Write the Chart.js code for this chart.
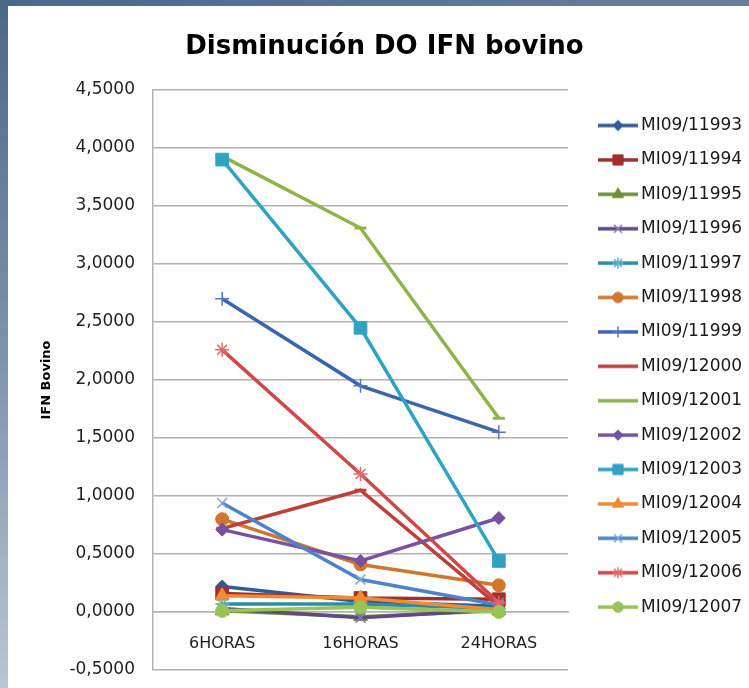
<!DOCTYPE html>
<html lang="es">
<head>
<meta charset="utf-8">
<title>Disminución DO IFN bovino</title>
<script src="https://cdn.jsdelivr.net/npm/chart.js@4.4.1/dist/chart.umd.min.js"></script>
<style>
  html, body { margin: 0; padding: 0; }
  body {
    width: 749px; height: 688px; overflow: hidden; position: relative;
    background: linear-gradient(165deg, #4b6789 0%, #7d93ad 40%, #dfe3e9 100%);
  }
  #painel {
    position: absolute; left: 8px; top: 6px;
    width: 741px; height: 682px; background: #fff;
  }
</style>
</head>
<body>
<div id="painel"><canvas id="grafico"></canvas></div>
<script>
// Categorias do eixo X
const categorias = ['6HORAS', '16HORAS', '24HORAS'];

// Nomes das amostras (legenda)
const amostras = ['MI09/11993', 'MI09/11994', 'MI09/11995', 'MI09/11996', 'MI09/11997',
  'MI09/11998', 'MI09/11999', 'MI09/12000', 'MI09/12001', 'MI09/12002',
  'MI09/12003', 'MI09/12004', 'MI09/12005', 'MI09/12006', 'MI09/12007'];

// Valores
const mi11993 = [0.22, 0.09, 0.05];
const mi11994 = [0.16, 0.12, 0.11];
const mi11995 = [0.01, -0.04, 0.01];
const mi11996 = [0.03, -0.05, 0.02];
const mi11997 = [0.07, 0.07, 0.03];
const mi11998 = [0.80, 0.41, 0.23];
const mi11999 = [2.70, 1.95, 1.55];
const mi12000 = [0.72, 1.05, 0.05];
const mi12001 = [3.93, 3.31, 1.67];
const mi12002 = [0.71, 0.44, 0.81];
const mi12003 = [3.90, 2.45, 0.44];
const mi12004 = [0.14, 0.12, 0.02];
const mi12005 = [0.94, 0.28, 0.06];
const mi12006 = [2.26, 1.19, 0.08];
const mi12007 = [0.01, 0.04, 0.00];

const valores = [mi11993, mi11994, mi11995, mi11996, mi11997, mi11998, mi11999, mi12000,
  mi12001, mi12002, mi12003, mi12004, mi12005, mi12006, mi12007];

// Rótulos do eixo Y
const yEtiquetas = ['-0,5000', '0,0000', '0,5000', '1,0000', '1,5000', '2,0000',
  '2,5000', '3,0000', '3,5000', '4,0000', '4,5000'];

// Estilo de cada série
const cores = ['#2F5D95', '#9E302D', '#6F9139', '#5E4A86', '#2E8DA6', '#D0762F', '#3A66AF',
  '#BF3F3B', '#8FB34B', '#7652A3', '#31A3C0', '#F08B33', '#4E83C9', '#CE4948', '#98C357'];
const coresMarcador = ['#2F5D95', '#9E302D', '#6F9139', '#8B77B8', '#58B3CC', '#D0762F', '#5279C0',
  '#BF3F3B', '#8FB34B', '#7652A3', '#31A3C0', '#F08B33', '#7AA3DA', '#E06A6A', '#98C357'];
const marcadores = ['rectRot', 'rect', 'triangle', 'crossRot', 'star', 'circle', 'cross',
  'line', 'line', 'rectRot', 'rect', 'triangle', 'crossRot', 'star', 'circle'];
const raios = { rectRot: 6.5, rect: 9, triangle: 8, crossRot: 7, star: 7, circle: 6.5, cross: 7, line: 6 };
const soTraco = ['crossRot', 'star', 'cross', 'line'];

// Ícone da legenda: linha com o marcador no meio
function criarIcone(i) {
  let c = document.createElement('canvas');
  c.width = 58;
  c.height = 20;
  let ctx = c.getContext('2d');
  ctx.strokeStyle = cores[i];
  ctx.lineWidth = 3.5;
  ctx.beginPath();
  ctx.moveTo(18, 10);
  ctx.lineTo(58, 10);
  ctx.stroke();
  let estilo = marcadores[i];
  if (estilo !== 'line') {
    let traco = soTraco.includes(estilo);
    ctx.fillStyle = cores[i];
    ctx.strokeStyle = coresMarcador[i];
    ctx.lineWidth = traco ? 1.5 : 1;
    Chart.helpers.drawPoint(ctx, {
      pointStyle: estilo,
      rotation: 0,
      radius: raios[estilo] * 0.8,
      borderWidth: ctx.lineWidth
    }, 38, 10);
  }
  return c;
}

const fonte = 'DejaVu Sans';

// Montamos os datasets
let datasets = amostras.map((nome, i) => {
  let estilo = marcadores[i];
  let traco = soTraco.includes(estilo);
  return {
    label: nome,
    data: valores[i],
    borderColor: cores[i],
    backgroundColor: cores[i],
    borderWidth: 3.5,
    tension: 0,
    pointStyle: estilo,
    pointRadius: raios[estilo],
    pointBackgroundColor: cores[i],
    pointBorderColor: coresMarcador[i],
    pointBorderWidth: estilo === 'line' ? 3 : (traco ? 1.5 : 1),
    order: amostras.length - i
  };
});

let ctx = document.getElementById('grafico');

new Chart(ctx, {
  type: 'line',
  data: {
    labels: categorias,
    datasets: datasets
  },
  options: {
    responsive: true,
    maintainAspectRatio: false,
    animation: false,
    layout: {
      padding: { left: 12, right: 0, top: 0, bottom: 18 }
    },
    plugins: {
      tooltip: { enabled: false },
      title: {
        display: true,
        text: 'Disminución DO IFN bovino',
        color: '#000',
        font: { family: fonte, size: 26, weight: 'bold' },
        padding: { top: 25.4, bottom: 27.4 }
      },
      legend: {
        position: 'right',
        align: 'start',
        maxWidth: 181,
        title: {
          display: true,
          text: '',
          font: { size: 10 },
          padding: { top: 81.6, bottom: 0 }
        },
        labels: {
          usePointStyle: true,
          pointStyleWidth: 47.1,
          padding: 17.4,
          color: '#1a1a1a',
          font: { family: fonte, size: 17 },
          generateLabels: (chart) => chart.data.datasets.map((ds, i) => ({
            text: ds.label,
            fillStyle: ds.borderColor,
            strokeStyle: ds.borderColor,
            fontColor: '#1a1a1a',
            lineWidth: 0,
            pointStyle: criarIcone(i),
            hidden: false,
            datasetIndex: i
          }))
        }
      }
    },
    scales: {
      x: {
        position: { y: 0 },
        offset: true,
        grid: { display: false, drawTicks: false },
        border: { display: true, color: '#b2b2b2', width: 1.5 },
        ticks: {
          color: '#1f1f1f',
          padding: 22,
          font: { family: fonte, size: 16 }
        }
      },
      y: {
        min: -0.5,
        max: 4.5,
        afterFit: (escala) => { escala.width = 133; },
        // marcas invisíveis só para afastar os rótulos do eixo
        grid: { color: '#b2b2b2', lineWidth: 1.5, drawTicks: true, tickLength: 18, tickColor: 'rgba(0,0,0,0)' },
        border: { display: true, color: '#b2b2b2', width: 1.5 },
        ticks: {
          stepSize: 0.5,
          padding: 0,
          color: '#1f1f1f',
          font: { family: fonte, size: 17 },
          callback: (valor, indice) => yEtiquetas[indice]
        },
        title: {
          display: true,
          text: 'IFN Bovino',
          color: '#000',
          font: { family: fonte, size: 13, weight: 'bold' },
          padding: { top: 19, bottom: 0 }
        }
      }
    }
  }
});
</script>
</body>
</html>
